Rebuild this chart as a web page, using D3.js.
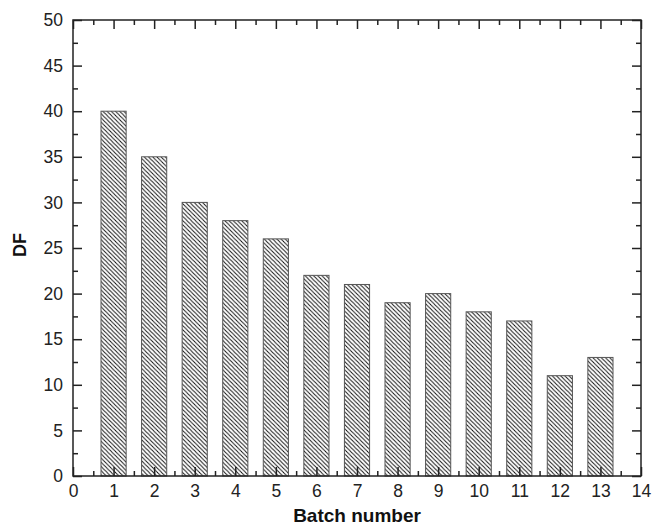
<!DOCTYPE html>
<html>
<head>
<meta charset="utf-8">
<script src="https://cdn.jsdelivr.net/npm/d3@7/dist/d3.min.js"></script>
<style>
  html, body { margin: 0; padding: 0; background: #fff; }
  svg { display: block; font-family: "Liberation Sans", Arial, sans-serif; }
</style>
</head>
<body>
<svg id="chart" width="660" height="525"></svg>
<script>
// Batch numbers and their DF values
const batches = [1, 2, 3, 4, 5, 6, 7, 8, 9, 10, 11, 12, 13];
const dfValues = [40, 35, 30, 28, 26, 22, 21, 19, 20, 18, 17, 11, 13];
const xTicks = [0, 1, 2, 3, 4, 5, 6, 7, 8, 9, 10, 11, 12, 13, 14];
const yTicks = [0, 5, 10, 15, 20, 25, 30, 35, 40, 45, 50];
const xLabel = "Batch number";
const yLabel = "DF";

const svg = d3.select("#chart");
const m = { left: 73, right: 19, top: 20, bottom: 49 };
const W = 660, H = 525;
const iw = W - m.left - m.right, ih = H - m.top - m.bottom;

const x = d3.scaleLinear().domain([0, 14]).range([m.left, m.left + iw]);
const y = d3.scaleLinear().domain([0, 50]).range([m.top + ih, m.top]);

// Diagonal hatch fill
const defs = svg.append("defs");
const pat = defs.append("pattern")
  .attr("id", "hatch")
  .attr("patternUnits", "userSpaceOnUse")
  .attr("width", 4.2).attr("height", 4.2);
pat.append("rect").attr("width", 4.2).attr("height", 4.2).attr("fill", "#fff");
pat.append("path")
  .attr("d", "M-1,-1 L5.2,5.2 M3.2,-1 L5.2,1 M-1,3.2 L1,5.2")
  .attr("stroke", "#111").attr("stroke-width", 1);

const barW = 0.62;
svg.append("g").selectAll("rect")
  .data(batches)
  .join("rect")
  .attr("x", (d) => x(d - barW / 2))
  .attr("width", (d) => x(barW) - x(0))
  .attr("y", (d, i) => y(dfValues[i]))
  .attr("height", (d, i) => y(0) - y(dfValues[i]))
  .attr("fill", "url(#hatch)")
  .attr("stroke", "#555")
  .attr("stroke-width", 1);

// Tick marks on all four sides, pointing inward
const xMinor = d3.range(0.5, 14, 1);
const yMinor = d3.range(2.5, 50, 5);
const axisColor = "#222";

function axisFor(gen, scale, ticks, len) {
  return gen(scale).tickValues(ticks).tickSizeInner(-len).tickSizeOuter(0);
}

// bottom
const gb = svg.append("g").attr("transform", `translate(0,${y(0)})`);
gb.call(axisFor(d3.axisBottom, x, xTicks, 9).tickPadding(9));
gb.append("g").call(axisFor(d3.axisBottom, x, xMinor, 5).tickFormat(""));
// top
const gt = svg.append("g").attr("transform", `translate(0,${y(50)})`);
gt.call(axisFor(d3.axisTop, x, xTicks, 9).tickFormat(""));
gt.append("g").call(axisFor(d3.axisTop, x, xMinor, 5).tickFormat(""));
// left
const gl = svg.append("g").attr("transform", `translate(${x(0)},0)`);
gl.call(axisFor(d3.axisLeft, y, yTicks, 9).tickPadding(10));
gl.append("g").call(axisFor(d3.axisLeft, y, yMinor, 5).tickFormat(""));
// right
const gr = svg.append("g").attr("transform", `translate(${x(14)},0)`);
gr.call(axisFor(d3.axisRight, y, yTicks, 9).tickFormat(""));
gr.append("g").call(axisFor(d3.axisRight, y, yMinor, 5).tickFormat(""));

svg.selectAll(".domain").remove();
svg.selectAll(".tick line").attr("stroke", axisColor).attr("stroke-width", 1.5);
svg.selectAll(".tick text").attr("fill", "#222").style("font-size", "17.5px");

// frame
svg.append("rect")
  .attr("x", x(0)).attr("y", y(50))
  .attr("width", x(14) - x(0)).attr("height", y(0) - y(50))
  .attr("fill", "none").attr("stroke", axisColor).attr("stroke-width", 1.5);

// axis titles
svg.append("text")
  .attr("x", (x(0) + x(14)) / 2).attr("y", 522)
  .attr("text-anchor", "middle")
  .attr("fill", "#111")
  .style("font-size", "19px").style("font-weight", "bold")
  .text(xLabel);
svg.append("text")
  .attr("transform", `translate(26,${(y(0) + y(50)) / 2 - 3}) rotate(-90)`)
  .attr("text-anchor", "middle")
  .attr("fill", "#111")
  .style("font-size", "18px").style("font-weight", "bold")
  .text(yLabel);
</script>
</body>
</html>
